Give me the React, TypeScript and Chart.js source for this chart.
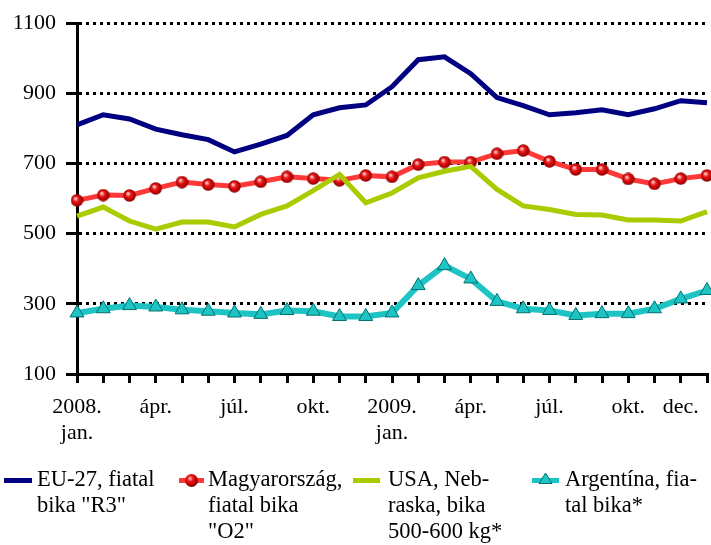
import React, { useEffect, useRef } from "react";
import { Chart, registerables } from "chart.js";

Chart.register(...registerables);

const months = [
  "2008. jan.", "febr.", "márc.", "ápr.", "máj.", "jún.", "júl.", "aug.", "szept.", "okt.", "nov.", "dec.",
  "2009. jan.", "febr.", "márc.", "ápr.", "máj.", "jún.", "júl.", "aug.", "szept.", "okt.", "nov.", "dec.",
  "2010. jan.",
];

const tickLabels: (string | string[])[] = [
  ["2008.", "jan."], "", "", "ápr.", "", "", "júl.", "", "", "okt.", "", "",
  ["2009.", "jan."], "", "", "ápr.", "", "", "júl.", "", "", "okt.", "", "dec.", "",
];

const seriesNames = [
  ["EU-27, fiatal", "bika \"R3\""],
  ["Magyarország,", "fiatal bika", "\"O2\""],
  ["USA, Neb-", "raska, bika", "500-600 kg*"],
  ["Argentína, fia-", "tal bika*"],
];

const euValues = [810, 839, 827, 798, 782, 768, 733, 755, 780, 839, 859, 867, 919, 996, 1004, 956, 888, 865, 839, 845, 853, 839, 856, 879, 873];
const huValues = [595, 610, 609, 629, 647, 640, 635, 648, 662, 657, 652, 666, 662, 697, 704, 704, 728, 737, 706, 683, 683, 656, 642, 657, 666];
const usValues = [550, 576, 536, 513, 533, 533, 519, 555, 579, 623, 669, 588, 616, 659, 678, 692, 626, 579, 569, 555, 553, 539, 539, 536, 563];
const arValues = [274, 286, 295, 291, 283, 279, 274, 270, 281, 279, 264, 264, 274, 352, 409, 371, 307, 286, 281, 267, 272, 272, 286, 314, 338];

const yTicks = [100, 300, 500, 700, 900, 1100];

const NAVY = "#000080";
const RED = "#FF3838";
const GREEN = "#A8CC00";
const CYAN = "#1EC4C4";
const FONT = "'Liberation Serif', 'Times New Roman', serif";

function makeBall(size: number): HTMLCanvasElement {
  const c = document.createElement("canvas");
  c.width = size;
  c.height = size;
  const ctx = c.getContext("2d")!;
  const r = size / 2;
  const g = ctx.createRadialGradient(r * 0.75, r * 0.7, r * 0.1, r, r, r);
  g.addColorStop(0, "#FFC8C8");
  g.addColorStop(0.35, "#E81818");
  g.addColorStop(0.8, "#B00000");
  g.addColorStop(1, "#700000");
  ctx.fillStyle = g;
  ctx.beginPath();
  ctx.arc(r, r, r - 0.3, 0, Math.PI * 2);
  ctx.fill();
  return c;
}

export default function App() {
  const ref = useRef<HTMLCanvasElement | null>(null);

  useEffect(() => {
    if (!ref.current) return;
    const ball = makeBall(13);
    const chart = new Chart(ref.current, {
      type: "line",
      data: {
        labels: months,
        datasets: [
          {
            label: seriesNames[0].join(" "),
            data: euValues,
            borderColor: NAVY,
            borderWidth: 5,
            pointRadius: 0,
            tension: 0,
            order: 3,
            clip: false as any,
          },
          {
            label: seriesNames[1].join(" "),
            data: huValues,
            borderColor: RED,
            borderWidth: 5,
            pointStyle: ball as any,
            pointRadius: 6.5,
            tension: 0,
            order: 2,
            clip: false as any,
          },
          {
            label: seriesNames[2].join(" "),
            data: usValues,
            borderColor: GREEN,
            borderWidth: 5,
            pointRadius: 0,
            tension: 0,
            order: 1,
            clip: false as any,
          },
          {
            label: seriesNames[3].join(" "),
            data: arValues,
            borderColor: CYAN,
            borderWidth: 6,
            pointStyle: "triangle",
            pointRadius: 8,
            pointBackgroundColor: CYAN,
            pointBorderColor: "#007070",
            pointBorderWidth: 1,
            tension: 0,
            order: 0,
            clip: false as any,
          },
        ],
      },
      options: {
        responsive: false,
        animation: false,
        devicePixelRatio: 1,
        layout: { autoPadding: false, padding: { left: 0, top: 21, right: 4, bottom: 0 } },
        plugins: {
          legend: { display: false },
          tooltip: { enabled: false },
        },
        scales: {
          x: {
            type: "category",
            offset: false,
            afterFit: (scale: any) => {
              scale.height = 86;
              scale.paddingRight = 0;
              scale.paddingLeft = 0;
            },
            grid: {
              display: true,
              drawOnChartArea: false,
              drawTicks: true,
              tickLength: 9,
              tickWidth: 3,
              tickColor: "#000",
              color: "#000",
              lineWidth: 3,
            },
            border: { display: true, color: "#000", width: 3 },
            ticks: {
              autoSkip: false,
              maxRotation: 0,
              minRotation: 0,
              padding: 12,
              color: "#000",
              font: { family: FONT, size: 22, lineHeight: 1.15 },
              callback: (_v: any, i: number) => tickLabels[i],
            },
          },
          y: {
            min: 100,
            max: 1100,
            afterFit: (scale: any) => {
              scale.width = 77;
            },
            afterBuildTicks: (scale: any) => {
              scale.ticks = yTicks.map((v) => ({ value: v }));
            },
            grid: {
              color: (ctx: any) => (ctx.tick && ctx.tick.value === 100 ? "rgba(0,0,0,0)" : "#000"),
              lineWidth: 3,
              drawTicks: true,
              tickLength: 11,
              tickWidth: 3,
              tickColor: "#000",
              tickBorderDash: [],
            } as any,
            border: { display: true, color: "#000", width: 3, dash: [3, 4] },
            ticks: {
              padding: 10,
              color: "#000",
              font: { family: FONT, size: 22 },
              callback: (v: any) => String(v),
            },
          },
        },
      },
    });
    return () => chart.destroy();
  }, []);

  const legendText: React.CSSProperties = {
    position: "absolute",
    top: 466,
    fontFamily: FONT,
    fontSize: 22.5,
    lineHeight: "26px",
    color: "#000",
    whiteSpace: "nowrap",
  };

  const lefts = [37, 208, 388, 565];

  return (
    <div style={{ position: "absolute", left: 0, top: 0, width: 711, height: 545, background: "#fff", overflow: "hidden" }}>
      <canvas ref={ref} width={711} height={460} style={{ position: "absolute", left: 0, top: 0, width: 711, height: 460 }} />
      <svg width={711} height={545} style={{ position: "absolute", left: 0, top: 0 }}>
        <defs>
          <radialGradient id="ballg" cx="0.4" cy="0.35" r="0.65">
            <stop offset="0" stopColor="#FFC8C8" />
            <stop offset="0.35" stopColor="#E81818" />
            <stop offset="0.8" stopColor="#B00000" />
            <stop offset="1" stopColor="#700000" />
          </radialGradient>
        </defs>
        <rect x={4} y={478} width={28} height={5} fill={NAVY} />
        <rect x={179} y={478} width={25} height={5} fill={RED} />
        <circle cx={191.5} cy={480.5} r={6.5} fill="url(#ballg)" />
        <rect x={353} y={478} width={27} height={5} fill={GREEN} />
        <rect x={532} y={478} width={27} height={5} fill={CYAN} />
        <polygon points="545.5,473 552,483.5 539,483.5" fill={CYAN} stroke="#007070" strokeWidth={1} />
      </svg>
      {seriesNames.map((lines, i) => (
        <div key={i} style={{ ...legendText, left: lefts[i] }}>
          {lines.map((l, j) => (
            <div key={j}>{l}</div>
          ))}
        </div>
      ))}
    </div>
  );
}
